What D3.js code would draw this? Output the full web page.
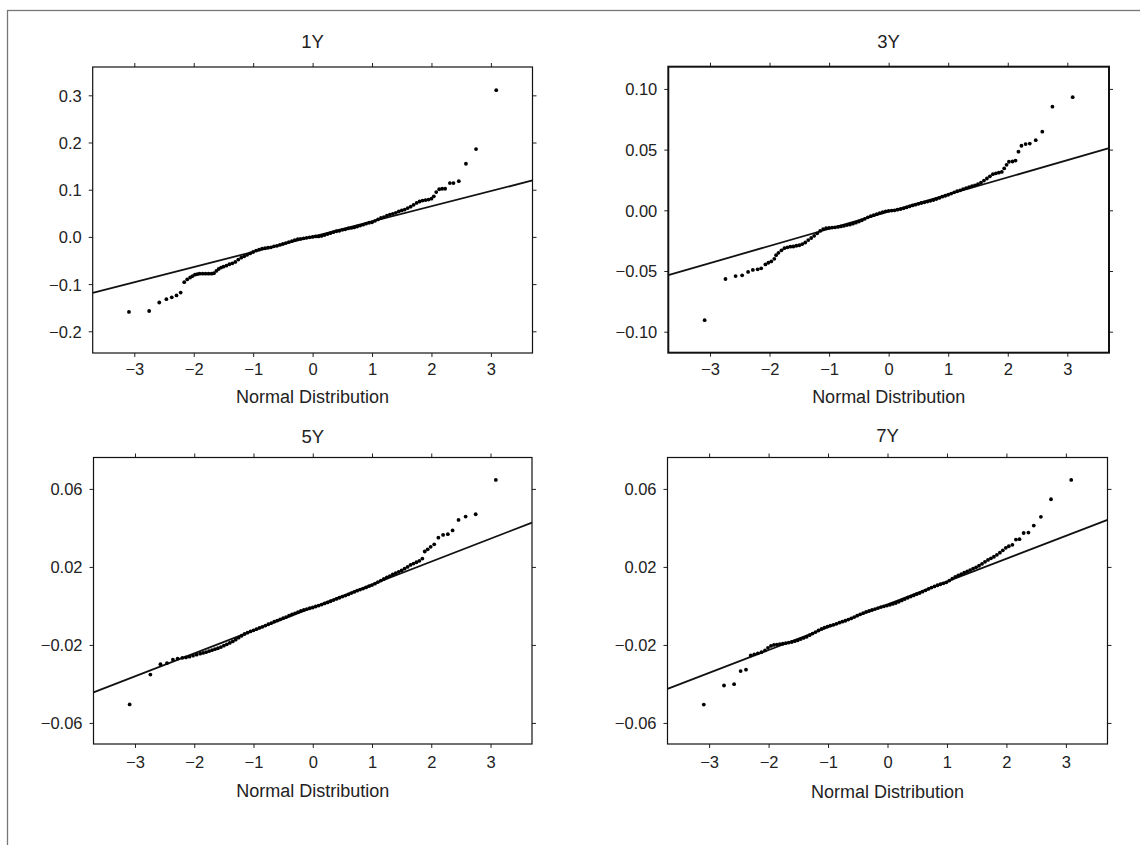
<!DOCTYPE html>
<html>
<head>
<meta charset="utf-8">
<script src="https://cdn.jsdelivr.net/npm/d3@7"></script>
<style>
  html, body { margin: 0; padding: 0; background: #fff; }
  svg { display: block; }
  text { font-family: "Liberation Sans", Arial, Helvetica, sans-serif; fill: #222; }
</style>
</head>
<body>
<svg id="chart" width="1140" height="845"></svg>
<script>
// ---------------- DATA ----------------
const titles = ["1Y", "3Y", "5Y", "7Y"];
const xLabel = "Normal Distribution";
const xTicks = [-3, -2, -1, 0, 1, 2, 3];
const yTicks1Y = [-0.2, -0.1, 0.0, 0.1, 0.2, 0.3];
const yTicks3Y = [-0.10, -0.05, 0.00, 0.05, 0.10];
const yTicks5Y = [-0.06, -0.02, 0.02, 0.06];
const yTicks7Y = [-0.06, -0.02, 0.02, 0.06];
const yDomain1Y = [-0.246, 0.360];
const yDomain3Y = [-0.1173, 0.1183];
const yDomain5Y = [-0.0708, 0.0761];
const yDomain7Y = [-0.0708, 0.0761];
const xDomain = [-3.7, 3.7];
// reference lines: [intercept, slope]
const fit1Y = [0.0005, 0.0322];
const fit3Y = [-0.0011, 0.01413];
const fit5Y = [-0.0008, 0.01176];
const fit7Y = [0.0008, 0.01172];

// Q-Q points: [theoretical quantile, sample quantile]
const q1Y = [
[-3.09,-0.159],[-2.75,-0.157],[-2.58,-0.139],[-2.46,-0.132],[-2.37,-0.128],[-2.29,-0.124],[-2.22,-0.118],
[-2.16,-0.096],[-2.11,-0.090],[-2.06,-0.086],[-2.02,-0.083],[-1.98,-0.080],[-1.94,-0.079],[-1.90,-0.078],
[-1.85,-0.078],[-1.80,-0.078],[-1.75,-0.078],[-1.70,-0.078],[-1.66,-0.077],[-1.62,-0.072],[-1.58,-0.068],
[-1.54,-0.065],[-1.50,-0.063],[-1.45,-0.061],[-1.40,-0.058],[-1.35,-0.056],[-1.30,-0.053],[-1.25,-0.048],
[-1.20,-0.044],[-1.15,-0.041],[-1.10,-0.038],[-1.05,-0.035],[-1.00,-0.032],[-0.95,-0.029],[-0.90,-0.027],
[-0.85,-0.025],[-0.80,-0.024],[-0.75,-0.023],[-0.70,-0.022],[-0.65,-0.020],[-0.60,-0.019],[-0.55,-0.017],
[-0.50,-0.015],[-0.45,-0.013],[-0.40,-0.011],[-0.35,-0.009],[-0.30,-0.007],[-0.25,-0.005],[-0.20,-0.004],
[-0.15,-0.003],[-0.10,-0.002],[-0.05,-0.001],[0.00,0.000],[0.05,0.001],[0.10,0.001],[0.15,0.002],
[0.20,0.004],[0.25,0.006],[0.30,0.008],[0.35,0.010],[0.40,0.012],[0.45,0.013],[0.50,0.015],[0.55,0.016],
[0.60,0.018],[0.65,0.019],[0.70,0.020],[0.75,0.022],[0.80,0.024],[0.85,0.026],[0.90,0.028],[0.95,0.030],
[1.00,0.031],[1.05,0.034],[1.10,0.037],[1.15,0.040],[1.20,0.042],[1.25,0.045],[1.30,0.047],[1.35,0.049],
[1.40,0.051],[1.45,0.054],[1.50,0.056],[1.55,0.058],[1.60,0.061],[1.65,0.064],[1.70,0.068],[1.75,0.072],
[1.80,0.075],[1.85,0.077],[1.90,0.078],[1.95,0.079],[2.00,0.081],[2.04,0.086],[2.08,0.095],[2.13,0.101],
[2.18,0.102],[2.23,0.102],[2.31,0.114],[2.37,0.114],[2.46,0.118],[2.58,0.155],[2.75,0.186],[3.09,0.311]
];
const q3Y = [
[-3.09,-0.0905],[-2.74,-0.0566],[-2.57,-0.0542],[-2.46,-0.0536],[-2.36,-0.0508],[-2.28,-0.0491],[-2.20,-0.0486],
[-2.14,-0.0478],[-2.07,-0.0446],[-2.02,-0.0432],[-1.97,-0.0421],[-1.92,-0.0400],[-1.89,-0.0370],[-1.85,-0.0350],
[-1.80,-0.0330],[-1.75,-0.0312],[-1.70,-0.0305],[-1.65,-0.0300],[-1.60,-0.0298],[-1.55,-0.0292],[-1.50,-0.0288],
[-1.45,-0.0278],[-1.40,-0.0265],[-1.35,-0.0245],[-1.30,-0.0228],[-1.25,-0.0210],[-1.20,-0.0190],[-1.15,-0.0170],
[-1.10,-0.0155],[-1.05,-0.0148],[-1.00,-0.0145],[-0.95,-0.0142],[-0.90,-0.0140],[-0.85,-0.0137],[-0.80,-0.0133],
[-0.75,-0.0128],[-0.70,-0.0122],[-0.65,-0.0117],[-0.60,-0.0110],[-0.55,-0.0102],[-0.50,-0.0092],[-0.45,-0.0082],
[-0.40,-0.0070],[-0.35,-0.0058],[-0.30,-0.0048],[-0.25,-0.0040],[-0.20,-0.0032],[-0.15,-0.0024],[-0.10,-0.0016],
[-0.05,-0.0008],[0.00,-0.0004],[0.05,-0.0002],[0.10,0.0000],[0.15,0.0005],[0.20,0.0010],[0.25,0.0016],
[0.30,0.0024],[0.35,0.0032],[0.40,0.0040],[0.45,0.0046],[0.50,0.0053],[0.55,0.0060],[0.60,0.0066],[0.65,0.0072],
[0.70,0.0078],[0.75,0.0085],[0.80,0.0093],[0.85,0.0102],[0.90,0.0112],[0.95,0.0120],[1.00,0.0128],[1.05,0.0138],
[1.10,0.0148],[1.15,0.0157],[1.20,0.0165],[1.25,0.0174],[1.30,0.0182],[1.35,0.0190],[1.40,0.0198],[1.45,0.0206],
[1.50,0.0215],[1.55,0.0228],[1.60,0.0245],[1.65,0.0262],[1.70,0.0280],[1.75,0.0298],[1.80,0.0305],[1.85,0.0310],
[1.90,0.0316],[1.94,0.0345],[1.98,0.0375],[2.02,0.0400],[2.08,0.0402],[2.13,0.0410],[2.18,0.0483],[2.23,0.0532],
[2.30,0.0546],[2.37,0.0550],[2.47,0.0578],[2.58,0.0648],[2.75,0.0854],[3.09,0.0932]
];
const q5Y = [
[-3.09,-0.0505],[-2.74,-0.0352],[-2.57,-0.0299],[-2.46,-0.0293],[-2.36,-0.0275],[-2.28,-0.0270],[-2.20,-0.0266],
[-2.14,-0.0264],[-2.08,-0.0260],[-2.02,-0.0255],[-1.96,-0.0250],[-1.90,-0.0245],[-1.85,-0.0241],[-1.80,-0.0237],
[-1.75,-0.0232],[-1.70,-0.0227],[-1.65,-0.0222],[-1.60,-0.0217],[-1.55,-0.0211],[-1.50,-0.0204],[-1.45,-0.0197],
[-1.40,-0.0190],[-1.35,-0.0182],[-1.30,-0.0173],[-1.25,-0.0163],[-1.20,-0.0153],[-1.15,-0.0144],[-1.10,-0.0137],
[-1.05,-0.0131],[-1.00,-0.0125],[-0.95,-0.0119],[-0.90,-0.0113],[-0.85,-0.0107],[-0.80,-0.0101],[-0.75,-0.0094],
[-0.70,-0.0088],[-0.65,-0.0081],[-0.60,-0.0075],[-0.55,-0.0069],[-0.50,-0.0063],[-0.45,-0.0057],[-0.40,-0.0050],
[-0.35,-0.0044],[-0.30,-0.0038],[-0.25,-0.0032],[-0.20,-0.0026],[-0.15,-0.0021],[-0.10,-0.0016],[-0.05,-0.0012],
[0.00,-0.0008],[0.05,-0.0003],[0.10,0.0002],[0.15,0.0007],[0.20,0.0013],[0.25,0.0018],[0.30,0.0024],[0.35,0.0030],
[0.40,0.0036],[0.45,0.0042],[0.50,0.0048],[0.55,0.0053],[0.60,0.0059],[0.65,0.0066],[0.70,0.0072],[0.75,0.0078],
[0.80,0.0084],[0.85,0.0089],[0.90,0.0095],[0.95,0.0101],[1.00,0.0107],[1.05,0.0114],[1.10,0.0122],[1.15,0.0130],
[1.20,0.0138],[1.25,0.0146],[1.30,0.0153],[1.35,0.0161],[1.40,0.0168],[1.45,0.0175],[1.50,0.0182],[1.55,0.0191],
[1.60,0.0200],[1.65,0.0210],[1.70,0.0217],[1.75,0.0224],[1.80,0.0231],[1.85,0.0243],[1.89,0.0279],[1.94,0.0290],
[1.99,0.0303],[2.05,0.0316],[2.12,0.0350],[2.20,0.0364],[2.28,0.0368],[2.36,0.0387],[2.46,0.0441],[2.58,0.0458],
[2.75,0.0470],[3.09,0.0646]
];
const q7Y = [
[-3.09,-0.0506],[-2.75,-0.0408],[-2.58,-0.0401],[-2.47,-0.0334],[-2.38,-0.0327],[-2.30,-0.0254],[-2.24,-0.0248],
[-2.18,-0.0243],[-2.12,-0.0237],[-2.06,-0.0228],[-2.01,-0.0215],[-1.96,-0.0205],[-1.91,-0.0200],[-1.86,-0.0198],
[-1.81,-0.0196],[-1.76,-0.0194],[-1.71,-0.0191],[-1.66,-0.0188],[-1.61,-0.0185],[-1.56,-0.0181],[-1.51,-0.0176],
[-1.46,-0.0170],[-1.41,-0.0164],[-1.36,-0.0158],[-1.31,-0.0150],[-1.26,-0.0142],[-1.21,-0.0134],[-1.16,-0.0126],
[-1.11,-0.0118],[-1.06,-0.0111],[-1.01,-0.0106],[-0.96,-0.0101],[-0.91,-0.0097],[-0.86,-0.0092],[-0.81,-0.0086],
[-0.76,-0.0081],[-0.71,-0.0076],[-0.66,-0.0070],[-0.61,-0.0064],[-0.56,-0.0057],[-0.51,-0.0050],[-0.46,-0.0043],
[-0.41,-0.0037],[-0.36,-0.0031],[-0.31,-0.0026],[-0.26,-0.0021],[-0.21,-0.0016],[-0.16,-0.0011],[-0.11,-0.0006],
[-0.06,-0.0002],[-0.01,0.0002],[0.04,0.0006],[0.09,0.0010],[0.14,0.0015],[0.19,0.0021],[0.24,0.0028],[0.29,0.0035],
[0.34,0.0042],[0.39,0.0048],[0.44,0.0054],[0.49,0.0060],[0.54,0.0066],[0.59,0.0073],[0.64,0.0080],[0.69,0.0087],
[0.74,0.0094],[0.79,0.0100],[0.84,0.0106],[0.89,0.0111],[0.94,0.0116],[0.99,0.0121],[1.04,0.0130],[1.09,0.0140],
[1.14,0.0149],[1.19,0.0156],[1.24,0.0163],[1.29,0.0170],[1.34,0.0177],[1.39,0.0184],[1.44,0.0191],[1.49,0.0198],
[1.54,0.0206],[1.59,0.0216],[1.64,0.0226],[1.69,0.0236],[1.74,0.0244],[1.79,0.0252],[1.84,0.0262],[1.89,0.0273],
[1.94,0.0285],[1.99,0.0298],[2.04,0.0306],[2.10,0.0313],[2.16,0.0340],[2.22,0.0342],[2.29,0.0374],[2.37,0.0376],
[2.46,0.0412],[2.58,0.0457],[2.75,0.0547],[3.09,0.0646]
];

// ---------------- LAYOUT ----------------
const layout = [
  { left: 92.7, right: 532.5, top: 67.0, bottom: 353.0, titleY: 48.3, tickY: 375, labelY: 403, yFmt: ".1f", boxW: 1.2 },
  { left: 668.3, right: 1109.0, top: 66.7, bottom: 352.7, titleY: 48.3, tickY: 375, labelY: 403, yFmt: ".2f", boxW: 2.0 },
  { left: 93.5, right: 532.0, top: 457.5, bottom: 744.0, titleY: 443, tickY: 768, labelY: 797, yFmt: ".2f", boxW: 1.2 },
  { left: 667.5, right: 1107.5, top: 457.5, bottom: 744.0, titleY: 442, tickY: 768, labelY: 798, yFmt: ".2f", boxW: 1.2 }
];
const series = [q1Y, q3Y, q5Y, q7Y];
const fits = [fit1Y, fit3Y, fit5Y, fit7Y];
const yTicksAll = [yTicks1Y, yTicks3Y, yTicks5Y, yTicks7Y];
const yDomains = [yDomain1Y, yDomain3Y, yDomain5Y, yDomain7Y];

const svg = d3.select("#chart");

// outer frame (only top and left edges visible)
svg.append("rect")
  .attr("x", 7.5).attr("y", 10.5)
  .attr("width", 1200).attr("height", 900)
  .attr("fill", "none").attr("stroke", "#777").attr("stroke-width", 1.3);

titles.forEach((title, i) => {
  const L = layout[i];
  const x = d3.scaleLinear().domain(xDomain).range([L.left, L.right]);
  const y = d3.scaleLinear().domain(yDomains[i]).range([L.bottom, L.top]);
  const g = svg.append("g");
  const fmt = d3.format(L.yFmt);
  const tickLen = 4;

  const gb = g.append("g").attr("transform", `translate(0,${L.bottom})`)
    .call(d3.axisBottom(x).tickValues(xTicks).tickSize(tickLen).tickFormat(d3.format("d")));
  const gt = g.append("g").attr("transform", `translate(0,${L.top})`)
    .call(d3.axisTop(x).tickValues(xTicks).tickSize(tickLen).tickFormat(""));
  const gl = g.append("g").attr("transform", `translate(${L.left},0)`)
    .call(d3.axisLeft(y).tickValues(yTicksAll[i]).tickSize(tickLen).tickFormat(fmt));
  const gr = g.append("g").attr("transform", `translate(${L.right},0)`)
    .call(d3.axisRight(y).tickValues(yTicksAll[i]).tickSize(tickLen).tickFormat(""));

  [gb, gt, gl, gr].forEach(a => {
    a.select(".domain").remove();
    a.selectAll(".tick line").attr("stroke", "#222").attr("stroke-width", 1);
  });
  gb.selectAll(".tick text")
    .attr("dy", null)
    .attr("y", L.tickY - L.bottom)
    .attr("font-size", "16.5px").attr("fill", "#222");
  gl.selectAll(".tick text")
    .attr("x", -(tickLen + 7))
    .attr("dy", "0.36em")
    .attr("font-size", "16.5px").attr("fill", "#222");

  g.append("rect")
    .attr("x", L.left).attr("y", L.top)
    .attr("width", L.right - L.left).attr("height", L.bottom - L.top)
    .attr("fill", "none").attr("stroke", "#111").attr("stroke-width", L.boxW);

  const [b0, b1] = fits[i];
  g.append("line")
    .attr("x1", x(xDomain[0])).attr("y1", y(b0 + b1 * xDomain[0]))
    .attr("x2", x(xDomain[1])).attr("y2", y(b0 + b1 * xDomain[1]))
    .attr("stroke", "#111").attr("stroke-width", 1.8);

  g.append("g").selectAll("circle")
    .data(series[i])
    .join("circle")
    .attr("cx", d => x(d[0]))
    .attr("cy", d => y(d[1]))
    .attr("r", 1.9)
    .attr("fill", "#000");

  g.append("text")
    .attr("x", (L.left + L.right) / 2).attr("y", L.titleY)
    .attr("text-anchor", "middle").attr("font-size", "18.5px")
    .text(title);

  g.append("text")
    .attr("x", (L.left + L.right) / 2).attr("y", L.labelY)
    .attr("text-anchor", "middle").attr("font-size", "18px")
    .text(xLabel);
});
</script>
</body>
</html>
